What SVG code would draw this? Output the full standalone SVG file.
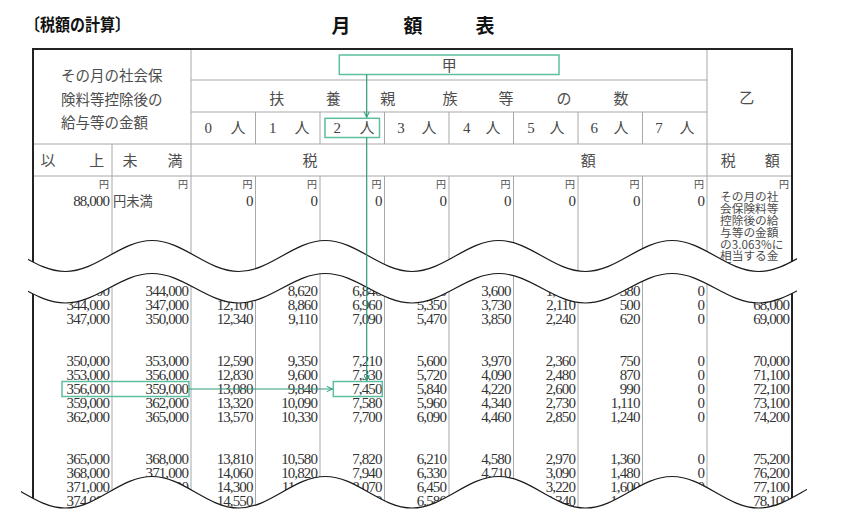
<svg xmlns="http://www.w3.org/2000/svg" width="843" height="520" viewBox="0 0 843 520">
<style>
.jp{font-family:"Noto Sans CJK JP","Noto Sans CJK SC",sans-serif;fill:#4d4d4d}
.hc{font-size:15px;text-anchor:middle}
.ser{font-family:"Liberation Serif","DejaVu Serif",serif;font-size:15px;fill:#444;text-anchor:middle}
.num{font-family:"Liberation Serif","DejaVu Serif",serif;font-size:15px;letter-spacing:-0.9px;text-anchor:end;fill:#333}
.yen{font-size:10px;text-anchor:end}
.g{stroke:#a8a8a8;stroke-width:1;fill:none}
.b{stroke:#222;stroke-width:2;fill:none}
.wave{stroke:#1a1a1a;stroke-width:1.2;fill:none}
.box{stroke:#5cbf9f;stroke-width:1.5;fill:none}
.link{stroke:#2e9c7e;stroke-width:1.2;fill:none}
</style>
<defs>
<marker id="ah" viewBox="0 0 8 8" refX="7.5" refY="4" markerWidth="7" markerHeight="7" markerUnits="userSpaceOnUse" orient="auto">
<path d="M1,1 L7.5,4 L1,7" fill="none" stroke="#2e9c7e" stroke-width="1.2"/>
</marker>
<clipPath id="cw"><rect x="28" y="200" width="769" height="130"/></clipPath>
<clipPath id="cb"><rect x="21" y="440" width="786" height="80"/></clipPath>
</defs>

<g id="title">
<text class="jp" x="25" y="30.5" font-size="17" font-weight="bold" fill="#111" textLength="105" lengthAdjust="spacingAndGlyphs" style="fill:#111">〔税額の計算〕</text>
<g class="jp" font-size="19" font-weight="bold" text-anchor="middle" style="fill:#111">
<text x="341" y="32.5">月</text><text x="413" y="32.5">額</text><text x="485" y="32.5">表</text>
</g>
</g>

<g id="grid">
<path class="g" d="M191,80H707M191,112H707M33,144H792M33,176H792"/>
<path class="g" d="M112,144V520M191,49V520M707,49V520"/>
<path class="g" d="M255.5,112V144M320,112V144M384.5,112V144M449,112V144M513.5,112V144M578,112V144M642.5,112V144"/>
<path class="g" d="M255.5,176V520M320,176V520M384.5,176V520M449,176V520M513.5,176V520M578,176V520M642.5,176V520"/>
<path class="b" d="M33,520V49H792V520"/>
</g>

<g id="header" class="jp">
<g font-size="14.5">
<text x="61" y="80.5">その月の社会保</text>
<text x="61" y="104.5">険料等控除後の</text>
<text x="61" y="127.5">給与等の金額</text>
</g>
<text class="hc" x="449.3" y="70.7">甲</text>
<g class="hc">
<text x="276.7" y="104.4">扶</text><text x="333.3" y="104.4">養</text><text x="387.7" y="104.4">親</text><text x="450" y="104.4">族</text><text x="506" y="104.4">等</text><text x="564" y="104.4">の</text><text x="621" y="104.4">数</text>
<text x="746.7" y="103.4">乙</text>
<text x="238" y="133.4">人</text><text x="302" y="133.4">人</text><text x="367" y="133.4">人</text><text x="429" y="133.4">人</text><text x="493" y="133.4">人</text><text x="557" y="133.4">人</text><text x="621" y="133.4">人</text><text x="687" y="133.4">人</text>
<text x="48" y="165.7">以</text><text x="96.7" y="165.7">上</text><text x="130" y="165.7">未</text><text x="175" y="165.7">満</text>
<text x="310" y="165.7">税</text><text x="588.3" y="165.7">額</text>
<text x="728.3" y="165.7">税</text><text x="772.3" y="165.7">額</text>
</g>
<g class="ser">
<text x="208.3" y="133">0</text><text x="272.7" y="133">1</text><text x="337.3" y="133">2</text><text x="401" y="133">3</text><text x="466.7" y="133">4</text><text x="531" y="133">5</text><text x="594.3" y="133">6</text><text x="659" y="133">7</text>
</g>
</g>

<g id="data">
<g class="jp yen" transform="translate(0,187.8)">
<text x="109">円</text><text x="188">円</text><text x="252.5">円</text><text x="317">円</text><text x="381.5">円</text><text x="446">円</text><text x="510.5">円</text><text x="575">円</text><text x="639.5">円</text><text x="704">円</text><text x="789">円</text>
</g>
<g transform="translate(0,205.5)">
<text class="num" x="109">88,000</text>
<text class="jp" x="113" font-size="13.3" y="0.5">円未満</text>
<text class="num" x="252.5">0</text><text class="num" x="317">0</text><text class="num" x="381.5">0</text><text class="num" x="446">0</text><text class="num" x="510.5">0</text><text class="num" x="575">0</text><text class="num" x="639.5">0</text><text class="num" x="704">0</text>
</g>
<g class="jp" font-size="11.7">
<text x="720" y="201.4">その月の社</text>
<text x="720" y="213.2">会保険料等</text>
<text x="720" y="225">控除後の給</text>
<text x="720" y="236.8">与等の金額</text>
<text x="720" y="248.6">の3.063%に</text>
<text x="720" y="260.4">相当する金</text>
<text x="720" y="272.2">額</text>
</g>

<g class="num" transform="translate(0,296)"><text x="109">341,000</text><text x="188">344,000</text><text x="252.5">11,860</text><text x="317">8,620</text><text x="381.5">6,840</text><text x="446">5,230</text><text x="510.5">3,600</text><text x="575">1,990</text><text x="639.5">380</text><text x="704">0</text><text x="789">67,000</text></g>
<g class="num" transform="translate(0,310)"><text x="109">344,000</text><text x="188">347,000</text><text x="252.5">12,100</text><text x="317">8,860</text><text x="381.5">6,960</text><text x="446">5,350</text><text x="510.5">3,730</text><text x="575">2,110</text><text x="639.5">500</text><text x="704">0</text><text x="789">68,000</text></g>
<g class="num" transform="translate(0,323.5)"><text x="109">347,000</text><text x="188">350,000</text><text x="252.5">12,340</text><text x="317">9,110</text><text x="381.5">7,090</text><text x="446">5,470</text><text x="510.5">3,850</text><text x="575">2,240</text><text x="639.5">620</text><text x="704">0</text><text x="789">69,000</text></g>

<g class="num" transform="translate(0,366)"><text x="109">350,000</text><text x="188">353,000</text><text x="252.5">12,590</text><text x="317">9,350</text><text x="381.5">7,210</text><text x="446">5,600</text><text x="510.5">3,970</text><text x="575">2,360</text><text x="639.5">750</text><text x="704">0</text><text x="789">70,000</text></g>
<g class="num" transform="translate(0,380)"><text x="109">353,000</text><text x="188">356,000</text><text x="252.5">12,830</text><text x="317">9,600</text><text x="381.5">7,330</text><text x="446">5,720</text><text x="510.5">4,090</text><text x="575">2,480</text><text x="639.5">870</text><text x="704">0</text><text x="789">71,100</text></g>
<g class="num" transform="translate(0,394)"><text x="109">356,000</text><text x="188">359,000</text><text x="252.5">13,080</text><text x="317">9,840</text><text x="381.5">7,450</text><text x="446">5,840</text><text x="510.5">4,220</text><text x="575">2,600</text><text x="639.5">990</text><text x="704">0</text><text x="789">72,100</text></g>
<g class="num" transform="translate(0,408)"><text x="109">359,000</text><text x="188">362,000</text><text x="252.5">13,320</text><text x="317">10,090</text><text x="381.5">7,580</text><text x="446">5,960</text><text x="510.5">4,340</text><text x="575">2,730</text><text x="639.5">1,110</text><text x="704">0</text><text x="789">73,100</text></g>
<g class="num" transform="translate(0,422)"><text x="109">362,000</text><text x="188">365,000</text><text x="252.5">13,570</text><text x="317">10,330</text><text x="381.5">7,700</text><text x="446">6,090</text><text x="510.5">4,460</text><text x="575">2,850</text><text x="639.5">1,240</text><text x="704">0</text><text x="789">74,200</text></g>

<g class="num" transform="translate(0,463.5)"><text x="109">365,000</text><text x="188">368,000</text><text x="252.5">13,810</text><text x="317">10,580</text><text x="381.5">7,820</text><text x="446">6,210</text><text x="510.5">4,580</text><text x="575">2,970</text><text x="639.5">1,360</text><text x="704">0</text><text x="789">75,200</text></g>
<g class="num" transform="translate(0,478)"><text x="109">368,000</text><text x="188">371,000</text><text x="252.5">14,060</text><text x="317">10,820</text><text x="381.5">7,940</text><text x="446">6,330</text><text x="510.5">4,710</text><text x="575">3,090</text><text x="639.5">1,480</text><text x="704">0</text><text x="789">76,200</text></g>
<g class="num" transform="translate(0,492)"><text x="109">371,000</text><text x="188">374,000</text><text x="252.5">14,300</text><text x="317">11,070</text><text x="381.5">8,070</text><text x="446">6,450</text><text x="510.5">4,830</text><text x="575">3,220</text><text x="639.5">1,600</text><text x="704">0</text><text x="789">77,100</text></g>
<g class="num" transform="translate(0,506)"><text x="109">374,000</text><text x="188">377,000</text><text x="252.5">14,550</text><text x="317">11,310</text><text x="381.5">8,190</text><text x="446">6,580</text><text x="510.5">4,950</text><text x="575">3,340</text><text x="639.5">1,730</text><text x="704">0</text><text x="789">78,100</text></g>
</g>

<g id="cuts">
<path fill="#fff" d="M-21.33,240.5 C10.24,240.5 33.76,271.5 65.33,271.5 S120.43,240.5 152,240.5 S207.1,271.5 238.67,271.5 S293.76,240.5 325.33,240.5 S380.43,271.5 412,271.5 S467.1,240.5 498.67,240.5 S553.76,271.5 585.33,271.5 S640.43,240.5 672,240.5 S727.1,271.5 758.67,271.5 S813.76,240.5 845.33,240.5 L845.33,273.5 C813.76,273.5 790.24,303 758.67,303 S703.57,273.5 672,273.5 S616.9,303 585.33,303 S530.24,273.5 498.67,273.5 S443.57,303 412,303 S356.9,273.5 325.33,273.5 S270.24,303 238.67,303 S183.57,273.5 152,273.5 S96.9,303 65.33,303 S10.24,273.5 -21.33,273.5 Z"/>
<path fill="#fff" d="M-21.33,476.5 C10.24,476.5 33.76,508 65.33,508 S120.43,476.5 152,476.5 S207.1,508 238.67,508 S293.76,476.5 325.33,476.5 S380.43,508 412,508 S467.1,476.5 498.67,476.5 S553.76,508 585.33,508 S640.43,476.5 672,476.5 S727.1,508 758.67,508 S813.76,476.5 845.33,476.5 L845.33,520 L-21.33,520 Z"/>
<g clip-path="url(#cw)">
<path class="wave" d="M-21.33,240.5 C10.24,240.5 33.76,271.5 65.33,271.5 S120.43,240.5 152,240.5 S207.1,271.5 238.67,271.5 S293.76,240.5 325.33,240.5 S380.43,271.5 412,271.5 S467.1,240.5 498.67,240.5 S553.76,271.5 585.33,271.5 S640.43,240.5 672,240.5 S727.1,271.5 758.67,271.5 S813.76,240.5 845.33,240.5"/>
<path class="wave" d="M-21.33,273.5 C10.24,273.5 33.76,303 65.33,303 S120.43,273.5 152,273.5 S207.1,303 238.67,303 S293.76,273.5 325.33,273.5 S380.43,303 412,303 S467.1,273.5 498.67,273.5 S553.76,303 585.33,303 S640.43,273.5 672,273.5 S727.1,303 758.67,303 S813.76,273.5 845.33,273.5"/>
</g>
<path class="wave" clip-path="url(#cb)" d="M-21.33,476.5 C10.24,476.5 33.76,508 65.33,508 S120.43,476.5 152,476.5 S207.1,508 238.67,508 S293.76,476.5 325.33,476.5 S380.43,508 412,508 S467.1,476.5 498.67,476.5 S553.76,508 585.33,508 S640.43,476.5 672,476.5 S727.1,508 758.67,508 S813.76,476.5 845.33,476.5"/>
</g>

<g id="node-kou"><rect class="box" x="339.3" y="55" width="219.7" height="19.5"/></g>
<g id="node-2nin"><rect class="box" x="325" y="118.3" width="54.5" height="19.2"/></g>
<g id="node-income"><rect class="box" x="62" y="381.5" width="127" height="15"/></g>
<g id="node-tax"><rect class="box" x="333.3" y="381.5" width="49" height="15"/></g>

<g id="connectors">
<path class="link" d="M366.7,74.5V117.3" marker-end="url(#ah)"/>
<path class="link" d="M366.7,137.5V380.8" marker-end="url(#ah)"/>
<path class="link" d="M189,389H332.5" marker-end="url(#ah)"/>
</g>
</svg>
